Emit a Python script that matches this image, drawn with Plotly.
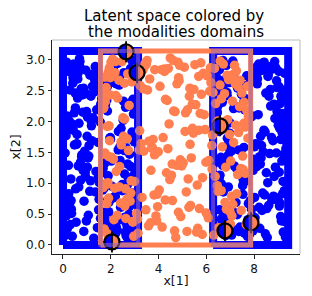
import math
import plotly.graph_objects as go

# ---------------- data ----------------
PI = math.pi
# domain bounds (x[1] ranges) ; x[2] range is [0, pi] for all
blue_dom_x0 = [0.0, 2 * PI]
blue_dom_x1 = [PI, 3 * PI]
coral_dom_x0 = [PI / 2]
coral_dom_x1 = [5 * PI / 2]
dom_y0 = 0.0
dom_y1 = PI
# overlap areas (highlighted rectangles)
overlap_x0 = [PI / 2, 2 * PI]
overlap_x1 = [PI, 5 * PI / 2]

blue_left_x = [
0.42, 1.87, 2.63, 0.15, 1.12, 2.95, 0.78, 2.21, 1.54, 0.33,
2.78, 0.96, 1.68, 2.44, 0.21, 1.33, 2.87, 0.61, 2.05, 1.01,
0.52, 2.58, 1.79, 0.27, 2.99, 1.44, 0.85, 2.32, 1.95, 0.69,
2.14, 0.38, 1.26, 2.71, 0.12, 1.61, 2.49, 0.91, 1.83, 2.92,
0.57, 1.17, 2.27, 0.74, 2.83, 1.49, 0.18, 2.01, 1.38, 2.66,
0.45, 1.92, 2.39, 0.83, 1.06, 2.81, 0.29, 1.72, 2.55, 0.64,
1.29, 2.97, 0.51, 2.17, 1.58, 0.09, 2.68, 1.03, 1.89, 0.72,
2.46, 0.35, 1.41, 2.88, 0.98, 1.76, 2.24, 0.24, 1.19, 2.61,
0.81, 1.98, 2.74, 0.47, 1.52, 2.36, 0.14, 1.09, 2.93, 0.66,
1.64, 2.11, 0.39, 2.79, 1.23, 0.88, 2.52, 1.81, 0.19, 2.04,
1.36, 2.86, 0.59, 1.71, 2.29, 0.93, 0.31, 2.62, 1.47, 2.08,
0.76, 1.15, 2.94, 0.43, 1.93, 2.41, 1.05, 0.22, 2.73, 1.57,
0.67, 2.19, 1.31, 2.84, 0.11, 1.86, 2.57, 0.87, 1.43, 2.98,
0.55, 2.35, 1.66, 0.26, 1.21, 2.69, 0.97, 2.02, 1.51, 0.71,
2.89, 0.36, 1.78, 2.47, 1.08, 0.62, 2.23, 1.96, 0.16, 2.77,
1.39, 0.84, 2.59, 1.62, 0.48, 2.91, 1.25, 2.13, 0.73, 1.85,
0.28, 2.43, 1.13, 2.67, 0.94, 1.69, 2.31, 0.53, 2.96, 1.35,
0.79, 2.06, 1.56, 0.41, 2.82, 1.02, 1.91, 2.53, 0.13, 1.28,
2.72, 0.63, 1.74, 2.38, 0.99, 0.34, 2.16, 1.46, 2.85, 0.58,
1.81, 2.64, 0.23, 1.18, 2.48, 0.86, 1.99, 2.76, 0.46, 1.59]
blue_left_y = [
2.71, 0.34, 1.58, 2.96, 0.87, 2.12, 1.43, 0.19, 2.55, 1.07,
0.62, 2.83, 1.24, 0.41, 1.91, 2.67, 0.13, 2.38, 0.95, 1.76,
2.22, 1.15, 0.52, 2.91, 1.67, 0.28, 2.49, 1.84, 0.73, 3.02,
0.44, 1.96, 2.77, 1.31, 0.16, 2.58, 0.98, 1.52, 2.34, 0.81,
1.63, 2.41, 0.24, 1.05, 2.86, 0.57, 1.88, 2.63, 1.19, 0.36,
2.93, 0.69, 1.37, 2.15, 0.48, 1.72, 2.51, 0.92, 2.79, 1.28,
0.11, 1.81, 2.46, 0.78, 2.28, 1.49, 0.31, 2.07, 1.12, 2.88,
1.57, 0.58, 2.19, 2.99, 0.39, 1.33, 2.61, 0.83, 1.93, 0.21,
2.43, 1.74, 0.66, 2.14, 1.01, 2.72, 0.47, 1.61, 2.36, 0.94,
1.22, 2.84, 0.14, 1.47, 2.57, 0.71, 2.02, 1.39, 0.27, 2.68,
0.86, 2.31, 1.79, 0.53, 2.94, 1.18, 0.33, 2.23, 1.66, 0.76,
2.53, 1.04, 0.18, 1.86, 2.64, 0.61, 1.41, 2.81, 1.09, 0.43,
1.97, 0.79, 2.48, 1.27, 0.56, 2.17, 1.53, 0.22, 2.74, 1.14,
0.37, 2.59, 0.89, 2.01, 1.69, 0.12, 2.45, 1.36, 0.74, 2.97,
1.83, 0.51, 2.27, 0.97, 1.44, 2.69, 0.29, 1.73, 2.09, 0.63,
2.87, 1.21, 0.45, 2.37, 1.62, 0.84, 2.06, 0.17, 1.34, 2.56,
0.68, 1.89, 2.75, 0.35, 1.11, 2.42, 1.54, 0.91, 2.21, 2.89,
1.46, 0.26, 1.99, 2.62, 0.82, 1.26, 0.54, 2.33, 1.77, 2.04,
0.99, 2.78, 0.42, 1.59, 2.16, 0.72, 2.92, 1.08, 0.25, 1.64,
2.39, 0.15, 1.29, 2.01, 0.88, 2.54, 1.71, 0.49, 2.82, 1.16]

blue_right_x = [
6.52, 8.91, 7.33, 9.18, 6.77, 8.24, 7.85, 6.41, 8.62, 9.02,
7.11, 6.93, 8.47, 9.29, 7.58, 6.66, 8.08, 7.96, 9.11, 6.48,
8.36, 7.22, 9.24, 6.84, 7.71, 8.79, 6.58, 9.06, 7.43, 8.15,
6.99, 8.55, 7.64, 9.33, 6.45, 8.02, 7.17, 8.87, 9.14, 6.72,
7.89, 8.41, 6.61, 9.21, 7.36, 8.68, 6.88, 7.52, 9.09, 8.29,
6.43, 7.78, 8.96, 7.04, 9.27, 6.69, 8.51, 7.29, 8.13, 9.01,
6.81, 7.47, 8.74, 6.55, 9.16, 7.92, 8.33, 6.97, 7.62, 8.84,
9.25, 6.63, 8.06, 7.39, 8.59, 6.91, 9.08, 7.14, 8.19, 7.74,
6.47, 8.94, 7.26, 9.31, 6.76, 8.44, 7.57, 8.71, 6.59, 9.13,
7.83, 8.27, 6.87, 7.48, 9.04, 8.61, 6.51, 7.98, 9.22, 7.18,
8.38, 6.73, 8.86, 7.67, 9.19, 6.44, 8.11, 7.31, 8.53, 6.95,
9.28, 7.81, 8.23, 6.67, 7.54, 8.98, 6.83, 9.07, 7.41, 8.49,
6.57, 8.76, 7.09, 9.34, 8.17, 6.89, 7.69, 8.65, 6.42, 9.15,
7.95, 8.31, 6.79, 7.24, 8.89, 9.03, 6.53, 8.04, 7.61, 8.57,
6.97, 9.26, 7.35, 8.42, 6.64, 7.87, 9.11, 8.21, 6.86, 7.49,
8.81, 6.49, 9.19, 7.72, 8.35, 6.75, 7.13, 8.69, 9.32, 7.99,
6.62, 8.46, 7.44, 9.05, 6.92, 8.09, 7.59, 8.93, 6.46, 7.84,
9.23, 8.26, 6.71, 7.21, 8.73, 6.99, 9.12, 7.65, 8.39, 6.56,
8.01, 7.37, 9.29, 6.82, 8.58, 7.76, 6.68, 8.97, 7.06, 9.17,
8.48, 6.54, 7.91, 8.83, 6.94, 9.01, 7.53, 8.14, 6.61, 7.27]
blue_right_y = [
1.34, 2.87, 0.52, 2.13, 1.91, 0.27, 2.64, 1.08, 2.41, 0.71,
2.98, 1.62, 0.18, 1.79, 2.33, 0.93, 2.72, 1.21, 0.46, 2.56,
0.84, 2.24, 1.47, 2.91, 0.31, 1.69, 2.48, 0.63, 1.15, 2.79,
1.98, 0.12, 2.37, 1.56, 2.82, 0.77, 1.28, 2.05, 0.39, 2.67,
0.58, 1.86, 2.94, 1.03, 0.22, 2.52, 1.73, 0.96, 2.29, 1.41,
2.71, 0.34, 2.16, 1.52, 0.88, 2.99, 1.17, 0.49, 2.61, 1.94,
0.15, 2.44, 0.73, 2.84, 1.36, 2.09, 0.56, 1.81, 2.58, 1.11,
2.35, 0.99, 1.64, 0.26, 2.76, 1.45, 0.68, 2.21, 2.93, 0.41,
1.87, 2.66, 1.24, 0.13, 2.49, 0.81, 1.58, 2.89, 0.92, 2.02,
0.37, 1.76, 2.42, 1.19, 2.81, 0.64, 2.27, 1.39, 0.21, 2.69,
1.51, 0.47, 2.97, 1.92, 0.83, 2.18, 1.27, 2.54, 0.59, 1.66,
2.78, 0.17, 1.43, 2.31, 1.06, 0.76, 2.62, 1.89, 0.29, 2.46,
1.13, 2.85, 0.54, 1.77, 2.11, 0.36, 2.74, 1.48, 0.97, 2.39,
0.23, 1.61, 2.92, 0.69, 1.26, 2.57, 1.84, 0.44, 2.19, 1.01,
2.63, 0.87, 1.54, 2.96, 0.32, 2.07, 1.71, 0.61, 2.47, 1.22,
0.79, 2.34, 1.95, 0.14, 2.83, 1.37, 0.51, 2.25, 1.68, 2.76,
0.42, 1.83, 2.59, 1.18, 0.94, 2.88, 0.19, 1.49, 2.14, 0.72,
2.51, 1.31, 0.86, 2.67, 1.74, 0.28, 2.41, 1.04, 2.95, 0.57,
1.59, 2.22, 0.38, 1.97, 2.73, 0.67, 1.29, 2.55, 0.16, 1.82,
2.86, 1.09, 0.48, 2.28, 1.57, 2.01, 0.82, 2.69, 1.42, 0.24]

coral_x = [
4.12, 2.37, 6.84, 5.29, 1.93, 3.66, 7.41, 2.85, 5.77, 4.58,
6.23, 1.71, 3.14, 7.12, 4.91, 2.62, 5.48, 6.97, 3.89, 2.08,
7.63, 4.36, 1.84, 5.95, 3.41, 6.52, 2.74, 4.77, 7.27, 5.13,
2.19, 6.08, 3.77, 1.67, 5.62, 4.25, 7.54, 2.96, 6.39, 3.27,
4.83, 1.98, 5.37, 7.06, 2.51, 6.71, 3.58, 4.44, 7.72, 5.84,
2.29, 3.96, 6.17, 1.76, 4.67, 5.21, 7.35, 2.88, 6.62, 3.52,
5.03, 2.13, 7.49, 4.19, 1.89, 6.31, 3.71, 5.56, 2.67, 6.93,
4.52, 7.18, 3.08, 5.91, 2.43, 6.46, 1.81, 4.97, 3.34, 7.67,
5.42, 2.57, 6.78, 3.83, 4.29, 1.72, 7.23, 5.68, 2.99, 6.14,
3.47, 4.81, 2.23, 7.58, 5.16, 1.95, 6.57, 3.92, 4.63, 7.02,
2.71, 5.34, 6.89, 3.19, 1.86, 4.41, 7.44, 5.79, 2.36, 6.26,
3.63, 4.93, 1.69, 7.31, 5.52, 2.81, 6.67, 3.37, 4.15, 7.76,
2.04, 5.87, 3.81, 6.43, 1.78, 4.72, 7.14, 2.47, 5.24, 6.99,
3.23, 4.57, 1.91, 6.34, 5.69, 2.93, 7.39, 3.99, 4.86, 2.16,
6.72, 5.08, 1.74, 7.52, 3.54, 4.33, 2.59, 6.04, 5.46, 7.09,
2.27, 3.74, 6.58, 1.83, 4.69, 5.98, 7.26, 3.12, 2.69, 6.19,
4.47, 1.97, 5.59, 7.61, 3.44, 2.41, 6.81, 4.06, 5.32, 7.01,
1.79, 3.87, 6.49, 2.77, 5.11, 4.61, 7.46, 2.11, 6.28, 3.31,
5.74, 1.88, 4.24, 6.95, 2.53, 7.21, 3.68, 5.27, 4.88, 1.73,
6.63, 2.84, 7.57, 3.06, 5.83, 4.39, 2.21, 6.37, 1.94, 7.11,
3.59, 5.41, 2.63, 6.87, 4.76, 1.68, 7.34, 3.21, 5.64, 2.01,
6.11, 4.28, 7.69, 2.44, 3.84, 5.99, 1.85, 6.76, 4.54, 2.91,
7.29, 3.38, 5.19, 6.48, 2.17, 4.03, 7.74, 1.77, 5.71, 3.49,
6.24, 2.58, 4.84, 7.07, 1.92, 5.31, 3.94, 6.69, 2.34, 4.49]
coral_y = [
2.84, 1.27, 0.58, 2.41, 1.93, 0.36, 2.67, 1.04, 2.95, 0.72,
1.61, 2.23, 0.19, 2.76, 1.38, 0.91, 2.52, 1.79, 0.47, 3.01,
1.16, 2.34, 0.67, 1.87, 2.89, 0.28, 1.53, 2.61, 0.83, 2.14,
2.97, 0.44, 1.71, 2.48, 0.97, 2.81, 1.22, 0.14, 2.29, 1.64,
0.53, 2.71, 1.41, 0.79, 2.06, 2.93, 0.31, 1.96, 2.57, 1.09,
2.38, 0.62, 2.87, 1.49, 0.23, 2.19, 1.82, 2.64, 0.88, 2.99,
1.33, 0.41, 2.46, 1.74, 2.79, 0.16, 1.57, 2.27, 0.74, 2.68,
1.12, 2.91, 0.51, 2.11, 1.67, 0.96, 2.55, 1.28, 2.83, 0.33,
1.89, 2.62, 0.69, 1.46, 2.36, 0.26, 1.94, 2.73, 1.03, 2.49,
0.57, 2.96, 1.19, 2.31, 0.86, 1.69, 2.59, 0.39, 2.17, 1.36,
2.77, 0.64, 2.03, 1.54, 0.18, 2.86, 1.24, 2.44, 0.94, 1.78,
2.69, 0.46, 2.21, 1.14, 2.92, 0.71, 1.59, 2.53, 0.29, 2.08,
1.42, 2.78, 0.81, 1.98, 2.39, 0.12, 1.66, 2.97, 1.07, 0.54,
2.58, 1.31, 0.76, 2.86, 1.86, 0.37, 2.24, 1.51, 2.66, 0.92,
1.99, 2.88, 0.24, 1.44, 2.51, 1.17, 0.63, 2.74, 1.81, 2.33,
0.48, 1.58, 2.98, 0.98, 2.16, 1.34, 2.82, 0.42, 1.72, 2.63,
1.06, 2.43, 0.21, 1.91, 2.94, 0.68, 1.26, 2.57, 1.63, 0.34,
2.72, 1.48, 0.87, 2.26, 1.84, 2.99, 0.56, 1.39, 2.47, 0.77,
2.13, 1.01, 2.85, 0.32, 1.76, 2.61, 1.21, 0.61, 2.91, 1.47,
2.37, 0.84, 1.97, 2.69, 0.17, 1.56, 2.42, 1.11, 2.87, 0.66,
1.68, 2.28, 0.43, 2.75, 1.29, 0.93, 2.56, 1.85, 0.27, 2.96,
1.37, 0.73, 2.18, 1.62, 2.84, 0.52, 1.92, 2.45, 1.13, 0.38,
2.65, 1.52, 0.22, 2.01, 2.79, 0.89, 1.73, 2.32, 0.59, 2.93,
1.23, 2.04, 2.71, 0.47, 1.43, 2.54, 0.82, 1.88, 2.67, 3.03]

# selected (highlighted) points
sel_x = [2.64, 3.10, 2.05, 6.57, 6.78, 7.87]
sel_y = [3.13, 2.79, 0.05, 1.93, 0.23, 0.36]

x_ticks = [0, 2, 4, 6, 8]
y_ticks = [0.0, 0.5, 1.0, 1.5, 2.0, 2.5, 3.0]
y_tick_text = ["0.0", "0.5", "1.0", "1.5", "2.0", "2.5", "3.0"]
title_lines = ["Latent space colored by", "the modalities domains"]

BLUE = "#0000ff"
CORAL = "#ff7f50"
FONT = "DejaVu Sans"
PT_SIZE = 9.5
SEL_SIZE = 15

# figure geometry (page body has an 8px default margin)
W, H = 296, 280
ML, MR, MT, MB = 44, 4, 32, 34
PW = W - ML - MR
PH = H - MT - MB
XR = [-0.46, 9.92]
YR = [-0.146, 3.32]

fig = go.Figure()

# domain borders (dense sampling on domain boundaries)
for x0, x1 in zip(blue_dom_x0, blue_dom_x1):
    fig.add_trace(go.Scatter(x=[x0, x1, x1, x0, x0], y=[dom_y0, dom_y0, dom_y1, dom_y1, dom_y0],
                             mode="lines", line=dict(color=BLUE, width=8), hoverinfo="skip"))
fig.add_trace(go.Scatter(x=blue_left_x + blue_right_x, y=blue_left_y + blue_right_y, mode="markers",
                         marker=dict(color=BLUE, size=PT_SIZE, line=dict(width=0)), hoverinfo="skip"))
for x0, x1 in zip(coral_dom_x0, coral_dom_x1):
    fig.add_trace(go.Scatter(x=[x0, x1, x1, x0, x0], y=[dom_y0, dom_y0, dom_y1, dom_y1, dom_y0],
                             mode="lines", line=dict(color=CORAL, width=5), hoverinfo="skip"))
fig.add_trace(go.Scatter(x=coral_x, y=coral_y, mode="markers",
                         marker=dict(color=CORAL, size=PT_SIZE, line=dict(width=0)), hoverinfo="skip"))

# overlap rectangles
for x0, x1 in zip(overlap_x0, overlap_x1):
    fig.add_shape(type="rect", xref="x", yref="y", x0=x0, x1=x1, y0=dom_y0, y1=dom_y1,
                  line=dict(color="rgba(148,103,189,0.55)", width=4), fillcolor="rgba(0,0,0,0)",
                  layer="above")

# highlighted points: left half blue / right half coral, black edge
fig.add_trace(go.Scatter(x=sel_x, y=sel_y, mode="markers",
                         marker=dict(color=CORAL, size=SEL_SIZE, line=dict(width=0)), hoverinfo="skip"))
# left half of each marker, as a filled half-disc of the marker's pixel radius
sx = PW / (XR[1] - XR[0])
sy = PH / (YR[1] - YR[0])
r_px = SEL_SIZE / 2
angles = [math.pi / 2 + math.pi * k / 24 for k in range(25)]
for cx, cy in zip(sel_x, sel_y):
    hx = [cx] + [cx + r_px / sx * math.cos(a) for a in angles] + [cx]
    hy = [cy] + [cy + r_px / sy * math.sin(a) for a in angles] + [cy]
    fig.add_trace(go.Scatter(x=hx, y=hy, mode="lines", fill="toself", fillcolor=BLUE,
                             line=dict(width=0, color=BLUE), hoverinfo="skip"))
fig.add_trace(go.Scatter(x=sel_x, y=sel_y, mode="markers",
                         marker=dict(symbol="circle-open", color="black", size=SEL_SIZE,
                                     line=dict(width=2.2, color="black")),
                         hoverinfo="skip"))
fig.add_trace(go.Scatter(x=sel_x, y=sel_y, mode="markers",
                         marker=dict(symbol="line-ns", color="black", size=SEL_SIZE,
                                     line=dict(width=1.8, color="black")),
                         hoverinfo="skip"))

fig.add_shape(type="line", xref="paper", yref="paper", x0=0, x1=1, y0=1, y1=1,
              line=dict(color="#bbbbbb", width=1))
fig.add_shape(type="line", xref="paper", yref="paper", x0=1, x1=1, y0=0, y1=1,
              line=dict(color="#bbbbbb", width=1))

# title as two annotations (tight line spacing); positions in figure pixels
for txt, xpx, ypx in zip(title_lines, [165.5, 167.5], [8.0, 23.8]):
    fig.add_annotation(text=txt, xref="paper", yref="paper", x=(xpx - ML) / PW, xanchor="center",
                       y=(H - MB - ypx) / PH, yanchor="middle", showarrow=False,
                       font=dict(size=15, color="black", family=FONT))

fig.update_layout(
    width=W, height=H,
    margin=dict(l=ML, r=MR, t=MT, b=MB, autoexpand=False),
    plot_bgcolor="white", paper_bgcolor="white",
    showlegend=False,
    font=dict(family=FONT, color="#111111", size=12),
    xaxis=dict(range=XR, tickvals=x_ticks, ticks="outside", ticklen=3.5, tickwidth=1,
               tickcolor="#222", showline=True, linecolor="#222", linewidth=1, showgrid=False,
               zeroline=False, automargin=False, title=dict(text="x[1]", standoff=4, font=dict(size=12.5))),
    yaxis=dict(range=YR, tickvals=y_ticks, ticktext=y_tick_text, ticks="outside",
               ticklen=3.5, tickwidth=1, tickcolor="#222", showline=True, linecolor="#222", linewidth=1,
               showgrid=False, zeroline=False, automargin=False,
               title=dict(text="x[2]", standoff=6, font=dict(size=12.5))),
)

fig.write_html("out.html")
